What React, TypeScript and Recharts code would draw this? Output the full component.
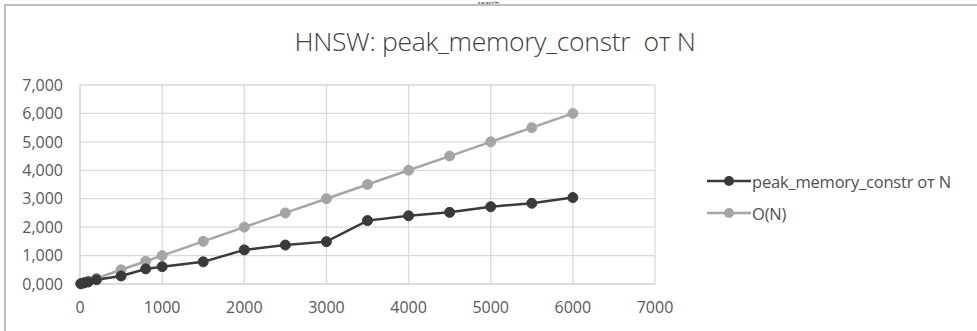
import React from 'react';
import { LineChart, Line, XAxis, YAxis, CartesianGrid } from 'recharts';

const nValues = [10, 50, 100, 200, 500, 800, 1000, 1500, 2000, 2500, 3000, 3500, 4000, 4500, 5000, 5500, 6000];
const peakMemory = [0.01, 0.04, 0.07, 0.15, 0.28, 0.53, 0.61, 0.78, 1.2, 1.37, 1.49, 2.23, 2.4, 2.52, 2.72, 2.84, 3.04];
const oN = [0.01, 0.05, 0.1, 0.2, 0.5, 0.8, 1.0, 1.5, 2.0, 2.5, 3.0, 3.5, 4.0, 4.5, 5.0, 5.5, 6.0];
const xTicks = [0, 1000, 2000, 3000, 4000, 5000, 6000, 7000];
const yTicks = [0, 1, 2, 3, 4, 5, 6, 7];
const seriesNames = ['peak_memory_constr от N', 'O(N)'];
const titleText = 'HNSW: peak_memory_constr  от N';

const data = nValues.map((n, i) => ({ n, peak: peakMemory[i], on: oN[i] }));

const FONT = '"Open Sans", "Noto Sans", sans-serif';
const DARK = '#3a3a3a';
const LIGHT = '#a5a5a5';

const LegendBox = () => {
  const items = [
    { name: seriesNames[0], color: DARK },
    { name: seriesNames[1], color: LIGHT },
  ];
  return (
    <div style={{ position: 'absolute', left: 707, top: 165, fontFamily: FONT, fontSize: 16.5, color: '#505050' }}>
      {items.map((it) => (
        <div key={it.name} style={{ display: 'flex', alignItems: 'center', height: 32 }}>
          <svg width={45} height={14} style={{ marginRight: 0 }}>
            <line x1={0} y1={7} x2={44} y2={7} stroke={it.color} strokeWidth={2.5} />
            <circle cx={22} cy={7} r={5} fill={it.color} />
          </svg>
          <span style={{ whiteSpace: 'nowrap', letterSpacing: -0.2 }}>{it.name}</span>
        </div>
      ))}
    </div>
  );
};

export default function App() {
  const fmt = (v: number) => v.toFixed(3).replace('.', ',');
  return (
    <div style={{ position: 'absolute', left: 0, top: 0, width: 977, height: 331, overflow: 'hidden', background: '#fff' }}>
      <div style={{ position: 'absolute', left: 0, top: 0, width: 977, textAlign: 'center', fontFamily: FONT, fontSize: 7, lineHeight: '7px', color: '#333' }}>search</div>
      <div style={{ position: 'absolute', left: 4, top: 4, width: 1000, height: 400, borderTop: '2px solid #bfbfbf', borderLeft: '2px solid #bfbfbf' }} />
      <div style={{ position: 'absolute', left: 0, top: 23, width: 990, textAlign: 'center', fontFamily: FONT, fontWeight: 300, fontSize: 26.5, color: '#404040', whiteSpace: 'pre', letterSpacing: -0.3 }}>{titleText}</div>
      <div style={{ position: 'absolute', left: 0, top: 0 }}>
        <LineChart width={977} height={331} data={data} margin={{ top: 85, right: 322, bottom: 17, left: 0 }}>
          <CartesianGrid stroke="#d9d9d9" strokeWidth={1.3} vertical={true} horizontal={true} />
          <XAxis
            dataKey="n"
            type="number"
            domain={[0, 7000]}
            ticks={xTicks}
            interval={0}
            height={30}
            tickLine={false}
            tickSize={0}
            tickMargin={18}
            axisLine={{ stroke: '#d9d9d9', strokeWidth: 1.3 }}
            tick={{ fill: '#595959', fontSize: 16, fontFamily: FONT }}
          />
          <YAxis
            type="number"
            domain={[0, 7]}
            ticks={yTicks}
            interval={0}
            width={80}
            tickLine={false}
            tickSize={0}
            tickMargin={17}
            axisLine={{ stroke: '#d9d9d9', strokeWidth: 1.3 }}
            tickFormatter={fmt}
            tick={{ fill: '#595959', fontSize: 16, fontFamily: FONT }}
          />
          <Line
            name={seriesNames[1]}
            dataKey="on"
            stroke={LIGHT}
            strokeWidth={2.5}
            dot={{ r: 5, fill: LIGHT, stroke: LIGHT, strokeWidth: 1 }}
            isAnimationActive={false}
          />
          <Line
            name={seriesNames[0]}
            dataKey="peak"
            stroke={DARK}
            strokeWidth={2.5}
            dot={{ r: 5, fill: DARK, stroke: DARK, strokeWidth: 1 }}
            isAnimationActive={false}
          />
        </LineChart>
      </div>
      <LegendBox />
    </div>
  );
}
